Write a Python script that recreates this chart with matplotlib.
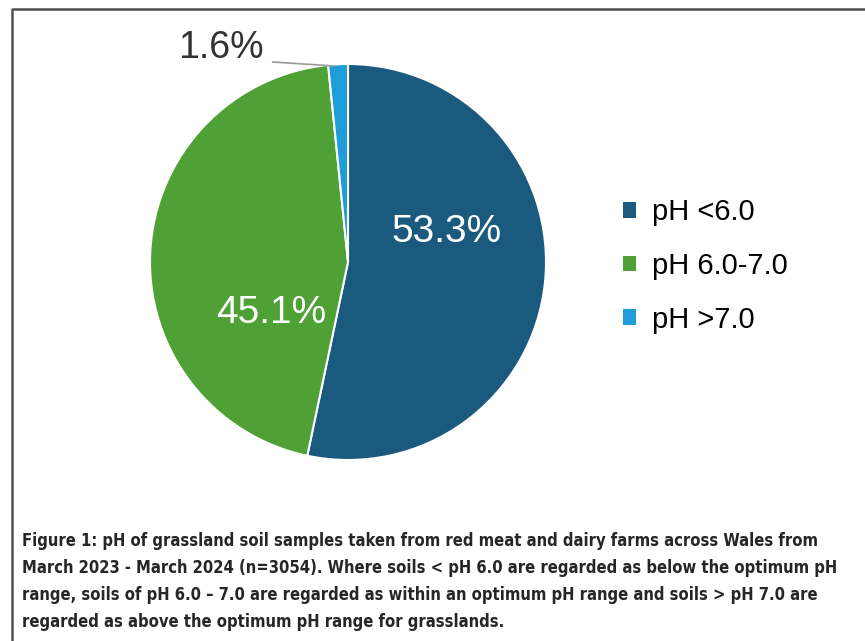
import matplotlib.pyplot as plt
from matplotlib.lines import Line2D
from matplotlib.patches import Patch

labels = ["pH <6.0", "pH 6.0-7.0", "pH >7.0"]
shares = [53.3, 45.1, 1.6]
colors = ["#1b5a7f", "#4fa035", "#1f9dd9"]

caption = [
    "Figure 1: pH of grassland soil samples taken from red meat and dairy farms across Wales from",
    "March 2023 - March 2024 (n=3054). Where soils < pH 6.0 are regarded as below the optimum pH",
    "range, soils of pH 6.0 \u2013 7.0 are regarded as within an optimum pH range and soils > pH 7.0 are",
    "regarded as above the optimum pH range for grasslands.",
]

W, H = 865, 641
fig = plt.figure(figsize=(W / 100, H / 100), dpi=100)
plt.rcParams["font.family"] = ["Liberation Sans", "DejaVu Sans"]

# pie, centred at (348, 262) px with ~198 px radius
cx, cy, r = 348, 262, 198
ax = fig.add_axes([(cx - r) / W, (H - cy - r) / H, 2 * r / W, 2 * r / H])
wedges, _ = ax.pie(shares, colors=colors, startangle=90, counterclock=False,
                   wedgeprops=dict(edgecolor="white", linewidth=1.5))
ax.set_xlim(-1, 1)
ax.set_ylim(-1, 1)
ax.set_aspect("equal")
ax.set_axis_off()

ax.text(0.50, 0.15, f"{shares[0]:.1f}%", color="white", fontsize=28,
        ha="center", va="center")
ax.text(-0.39, -0.26, f"{shares[1]:.1f}%", color="white", fontsize=28,
        ha="center", va="center")
ax.text(-0.64, 1.08, f"{shares[2]:.1f}%", color="#333333", fontsize=27,
        ha="center", va="center")
ax.plot([-0.38, -0.07], [1.01, 0.99], color="#9a9a9a", lw=1.2,
        clip_on=False)

# legend
handles = [Patch(facecolor=c, edgecolor="none") for c in colors]
fig.legend(handles, labels, loc="center left", bbox_to_anchor=(0.69, 0.585),
           frameon=False, fontsize=21, handlelength=0.45, handleheight=0.45,
           handletextpad=0.55, labelspacing=0.88)

# caption, condensed bold
for i, line in enumerate(caption):
    fig.text(22 / W, 1 - (541 + i * 27) / H, line, fontsize=11.9,
             fontweight="bold", fontstretch="condensed", color="#262626",
             ha="left", va="center", family="DejaVu Sans")

# frame on the left and top edges
fig.add_artist(Line2D([12 / W, 12 / W, 1], [0, 1 - 9 / H, 1 - 9 / H],
                      transform=fig.transFigure, color="#505050", lw=1.8))

fig.savefig("out.png", dpi=100)
